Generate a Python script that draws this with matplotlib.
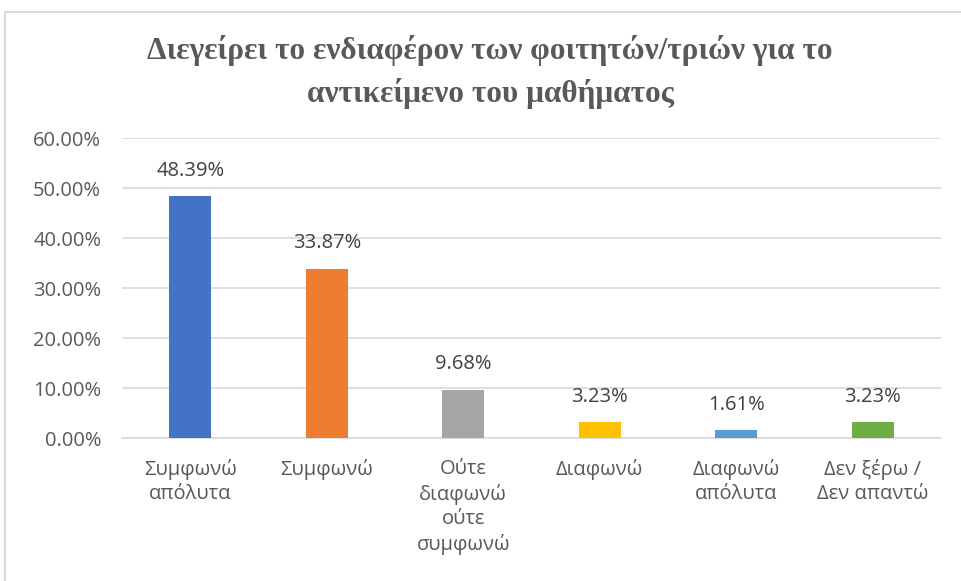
import matplotlib.pyplot as plt
from matplotlib.patches import Rectangle

categories = ["Συμφωνώ\nαπόλυτα", "Συμφωνώ", "Ούτε\nδιαφωνώ\nούτε\nσυμφωνώ",
              "Διαφωνώ", "Διαφωνώ\nαπόλυτα", "Δεν ξέρω /\nΔεν απαντώ"]
values = [48.39, 33.87, 9.68, 3.23, 1.61, 3.23]
colors = ["#4472C4", "#ED7D31", "#A5A5A5", "#FFC000", "#5B9BD5", "#70AD47"]
yticks = [0, 10, 20, 30, 40, 50, 60]
title = "Διεγείρει το ενδιαφέρον των φοιτητών/τριών για το\nαντικείμενο του μαθήματος"

grey = "#595959"
plt.rcParams["font.family"] = ["Open Sans", "DejaVu Sans"]

fig = plt.figure(figsize=(9.61, 5.81), dpi=100)
fig.patches.append(Rectangle((5 / 961, -0.1), 1.1, (581 - 12) / 581 + 0.1,
                             transform=fig.transFigure, fill=False,
                             edgecolor="#d9d9d9", linewidth=1.5))

ax = fig.add_axes([122 / 961, 1 - 438 / 581, (941 - 122) / 961, 300 / 581])
x = range(len(values))
ax.bar(x, values, width=0.31, color=colors, zorder=3)
for xi, v in zip(x, values):
    ax.annotate(f"{v:.2f}%", (xi, v), xytext=(0, 11), textcoords="offset points",
                ha="center", va="bottom", fontsize=14.5, color="#404040")

ax.set_xlim(-0.5, len(values) - 0.5)
ax.set_ylim(0, 60)
ax.set_yticks(yticks)
ax.set_yticklabels([f"{t:.2f}%" for t in yticks], fontsize=14.5, color=grey)
ax.set_xticks(list(x))
ax.set_xticklabels(categories, fontsize=14.5, color=grey, linespacing=1.3)
ax.tick_params(axis="both", length=0)
ax.tick_params(axis="y", pad=15)
ax.tick_params(axis="x", pad=15)
ax.grid(axis="y", color="#d9d9d9", linewidth=1.2, zorder=0)
for s in ["top", "right", "left"]:
    ax.spines[s].set_visible(False)
ax.spines["bottom"].set_color("#d9d9d9")
ax.spines["bottom"].set_linewidth(1.2)

fig.text(490 / 961, 1 - 72 / 581, title, ha="center", va="center",
         fontsize=22.5, fontweight="bold", color=grey,
         family=["Liberation Serif", "DejaVu Serif"], linespacing=1.5)

fig.savefig("out.png", dpi=100)
